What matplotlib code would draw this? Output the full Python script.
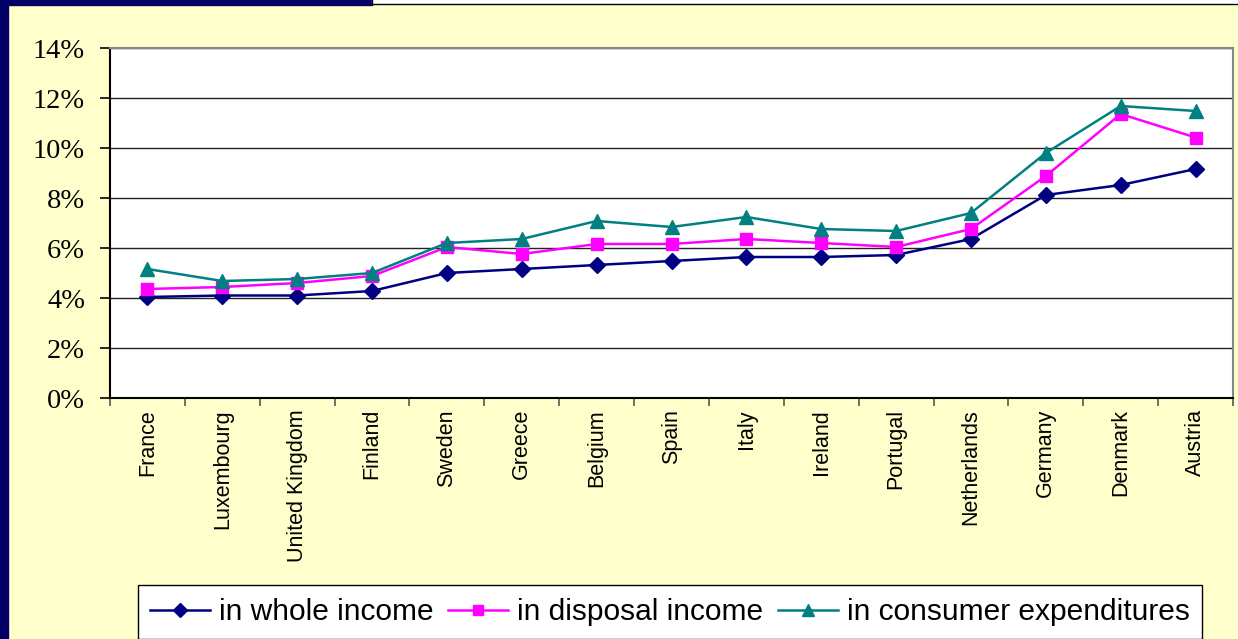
import numpy as np
import matplotlib.pyplot as plt
from matplotlib.patches import Rectangle
from matplotlib.lines import Line2D

# country order and shares (%)
countries = ['France', 'Luxembourg', 'United Kingdom', 'Finland', 'Sweden', 'Greece',
             'Belgium', 'Spain', 'Italy', 'Ireland', 'Portugal', 'Netherlands',
             'Germany', 'Denmark', 'Austria']
whole_income = [4.04, 4.1, 4.1, 4.28, 5.0, 5.16, 5.32, 5.48, 5.64, 5.64, 5.72, 6.36, 8.12, 8.52, 9.16]
disposal_income = [4.36, 4.44, 4.6, 4.88, 6.04, 5.76, 6.16, 6.16, 6.36, 6.2, 6.04, 6.76, 8.88, 11.36, 10.42]
consumer_exp = [5.16, 4.68, 4.76, 5.0, 6.2, 6.36, 7.08, 6.84, 7.24, 6.76, 6.68, 7.4, 9.8, 11.68, 11.48]
y_ticks = [0, 2, 4, 6, 8, 10, 12, 14]

fig = plt.figure(figsize=(12.38, 6.39), dpi=100)
fig.patch.set_facecolor('#FFFFCC')

# dark frame on the left/top like the slide
W, H = 1238, 639
fig.add_artist(Rectangle((0, 0), 8 / W, 1, transform=fig.transFigure, color='#000066', zorder=0))
fig.add_artist(Rectangle((0, 1 - 5 / H), 372 / W, 5 / H, transform=fig.transFigure, color='#000066', zorder=0))
fig.add_artist(Rectangle((372 / W, 1 - 4 / H), 1 - 372 / W, 4 / H, transform=fig.transFigure, color='white', zorder=0))
fig.add_artist(Line2D([372 / W, 1], [1 - 4 / H, 1 - 4 / H], transform=fig.transFigure, color='black', lw=1))
fig.add_artist(Line2D([372 / W, 372 / W], [1 - 4 / H, 1], transform=fig.transFigure, color='black', lw=1))

ax = fig.add_axes([110 / W, (H - 398) / H, 1123 / W, 350 / H])
ax.set_facecolor('white')

x = np.arange(len(countries))
ax.plot(x, whole_income, color='#000080', marker='D', markersize=8.5, lw=1.8, label='in whole income', zorder=3)
ax.plot(x, disposal_income, color='#FF00FF', marker='s', markersize=9, lw=1.8, label='in disposal income', zorder=4)
ax.plot(x, consumer_exp, color='#008080', marker='^', markersize=10.5, lw=1.8, label='in consumer expenditures', zorder=5)

ax.set_xlim(-0.5, len(countries) - 0.5)
ax.set_ylim(0, 14)
ax.set_yticks(y_ticks)
ax.set_yticklabels([f'{v}%' for v in y_ticks], family='Liberation Serif', fontsize=20.5)
ax.yaxis.grid(True, color='#222222', lw=1)
ax.set_axisbelow(True)

# labels at centres, tick marks between categories
ax.set_xticks(x)
ax.set_xticklabels(countries, rotation=90, family='Liberation Sans', fontsize=15.5)
ax.set_xticks(np.arange(len(countries) + 1) - 0.5, minor=True)
ax.tick_params(axis='x', which='major', length=0, pad=8)
ax.tick_params(axis='x', which='minor', length=6, width=1.2, direction='out', color='#555555')
ax.tick_params(axis='y', length=7, width=1.2, direction='out', pad=11)

for s in ['left', 'bottom']:
    ax.spines[s].set_color('black')
    ax.spines[s].set_linewidth(1.5)
for s in ['top', 'right']:
    ax.spines[s].set_color('#888888')
    ax.spines[s].set_linewidth(1.5)

leg = fig.legend(loc='center', bbox_to_anchor=(670 / W, (H - 612) / H), ncol=3,
                 prop={'family': 'Liberation Sans', 'size': 21.5}, frameon=True,
                 fancybox=False, edgecolor='black', facecolor='white', framealpha=1,
                 handlelength=2.0, handletextpad=0.3, columnspacing=0.5,
                 borderpad=0.42, markerscale=0.8)
leg.get_frame().set_linewidth(1)

fig.savefig('out.png', dpi=100, facecolor=fig.get_facecolor())
